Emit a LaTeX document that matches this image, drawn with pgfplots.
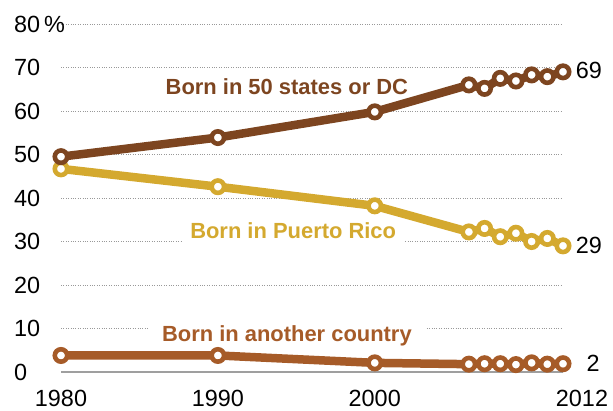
\documentclass[border=0pt]{standalone}
\usepackage{fontspec}
\setmainfont{Liberation Sans}
\usepackage{pgfplots}
\pgfplotsset{compat=1.18}
\usetikzlibrary{calc}
\definecolor{cUS}{HTML}{7D4520}
\definecolor{cPR}{HTML}{D4A92F}
\definecolor{cOT}{HTML}{A65B28}
\begin{document}
\begin{tikzpicture}
\begin{axis}[
  name=ax,
  scale only axis,
  width=502bp, height=348bp,
  xmin=1980, xmax=2012, ymin=0, ymax=80,
  clip=false,
  axis line style={draw=none},
  tick style={draw=none},
  major tick length=0pt,
  ytick={10,20,30,40,50,60,70,80},
  yticklabels={10,20,30,40,50,60,70,80\,\%},
  extra y ticks={0},
  extra y tick labels={0},
  extra y tick style={grid style={solid, gray!75, line width=2.2bp}},
  ymajorgrids,
  grid style={dotted, gray!80, line width=0.9bp},
  xtick={1980,1990,2000},
  xticklabels={1980,1990,2000},
  extra x ticks={2012},
  extra x tick labels={2012},
  extra x tick style={xmajorgrids=false, xticklabel style={xshift=19bp}},
  tick label style={font=\fontsize{23.5}{26}\selectfont},
  /pgf/number format/assume math mode=true,
  yticklabel style={anchor=west, inner xsep=0pt, xshift=-47bp},
  xticklabel style={yshift=-15bp},
  every axis plot/.append style={line width=8.5bp, mark=*, mark size=6.2bp,
     mark options={fill=white, line width=4.6bp}},
]
\addplot[color=cOT] coordinates {(1980,3.8) (1990,3.8) (2000,2.1) (2006,1.8) (2007,1.9) (2008,1.9) (2009,1.7) (2010,2.1) (2011,1.8) (2012,1.9)};
\addplot[color=cPR] coordinates {(1980,46.7) (1990,42.6) (2000,38.2) (2006,32.2) (2007,33.0) (2008,31.1) (2009,31.9) (2010,30.0) (2011,30.7) (2012,29.0)};
\addplot[color=cUS] coordinates {(1980,49.5) (1990,53.9) (2000,59.8) (2006,66.0) (2007,65.2) (2008,67.5) (2009,66.9) (2010,68.3) (2011,67.9) (2012,69.0)};
\node[font=\fontsize{22}{24}\selectfont\bfseries, text=cUS] at (axis cs:1994.4,65.7) {Born in 50 states or DC};
\node[font=\fontsize{22}{24}\selectfont\bfseries, text=cPR, fill=white, inner xsep=8bp] at (axis cs:1994.8,32.4) {Born in Puerto Rico};
\node[font=\fontsize{22}{24}\selectfont\bfseries, text=cOT, fill=white, inner xsep=14bp] at (axis cs:1994.4,8.4) {Born in another country};
\node[font=\fontsize{23.5}{26}\selectfont, anchor=west, inner xsep=0pt] at (axis cs:2012.8,69.4) {69};
\node[font=\fontsize{23.5}{26}\selectfont, anchor=west, inner xsep=0pt] at (axis cs:2012.8,29.1) {29};
\node[font=\fontsize{23.5}{26}\selectfont, anchor=west, inner xsep=0pt] at (axis cs:2013.5,1.9) {2};
\end{axis}
\pgfresetboundingbox
\path ($(ax.south west)+(-61bp,-39bp)$) rectangle ($(ax.north east)+(50bp,24bp)$);
\end{tikzpicture}
\end{document}
